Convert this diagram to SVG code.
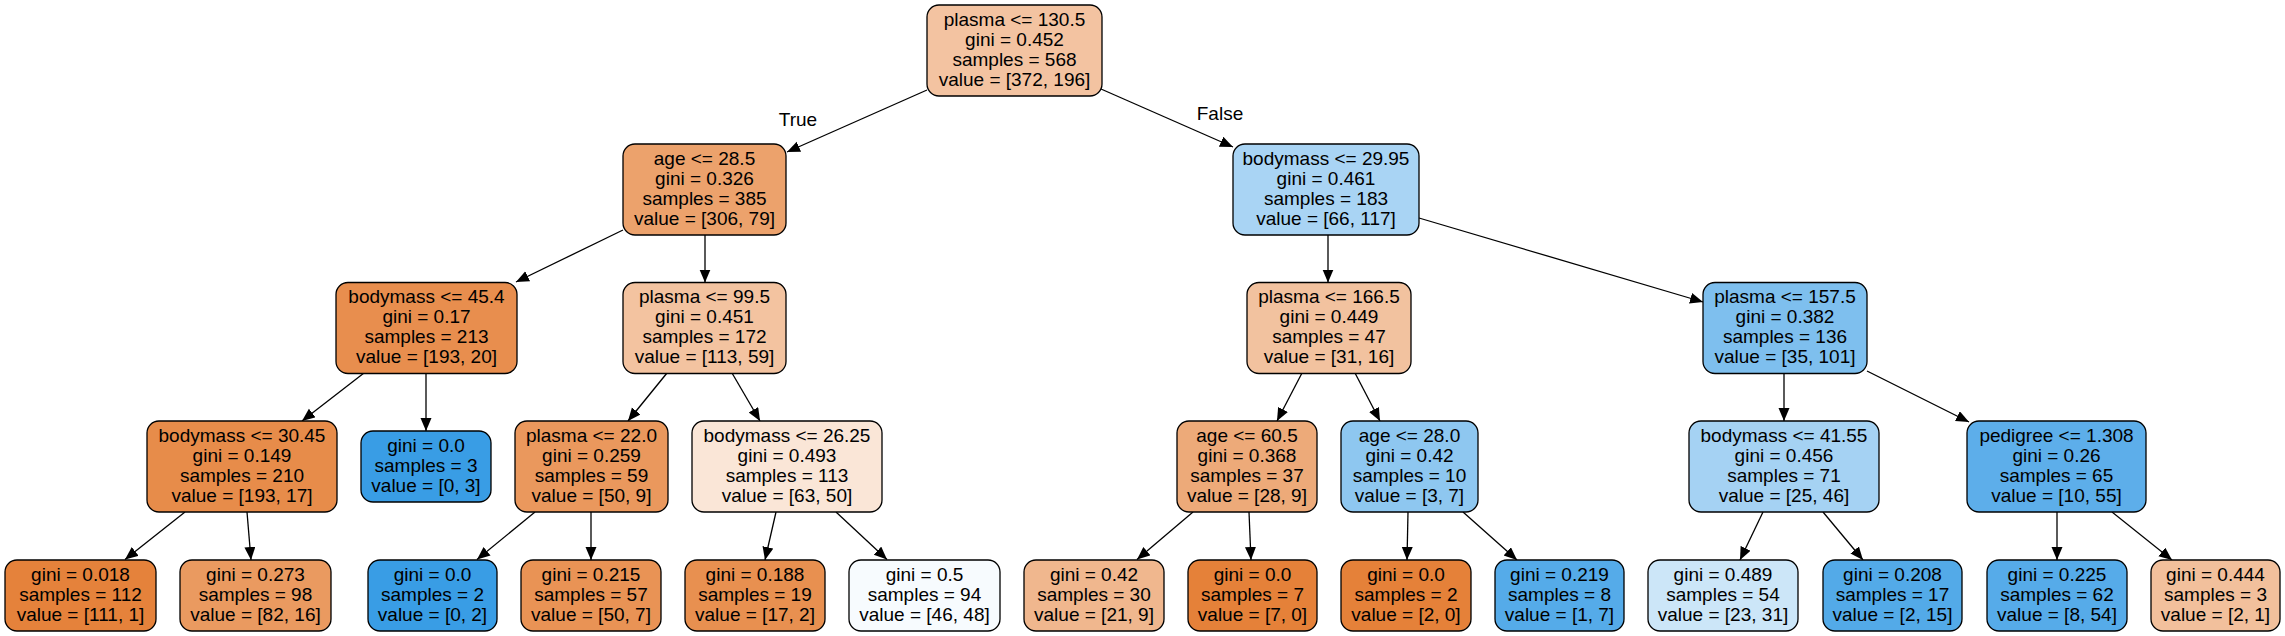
<svg xmlns="http://www.w3.org/2000/svg" width="2285" height="636" viewBox="0 0 2285 636">
<defs>
<marker id="ah" markerUnits="userSpaceOnUse" markerWidth="14" markerHeight="12" refX="13" refY="5.5" orient="auto">
<path d="M0,0 L13,5.5 L0,11 Z" fill="#000"/>
</marker>
</defs>
<style>
.n rect{stroke:#000;stroke-width:1.3;}
.n text{font-family:"Liberation Sans",Arial,Helvetica,sans-serif;font-size:19px;text-anchor:middle;fill:#000;}
.e line{stroke:#000;stroke-width:1.3;marker-end:url(#ah);}
.lbl{font-family:"Liberation Sans",Arial,Helvetica,sans-serif;font-size:19px;text-anchor:middle;fill:#000;}
</style>
<rect width="2285" height="636" fill="#fff"/>
<g id="edges" class="e">
<line x1="927" y1="90" x2="787" y2="152"/>
<line x1="1101" y1="89" x2="1233" y2="147"/>
<line x1="623" y1="230" x2="516" y2="282"/>
<line x1="705" y1="235" x2="705" y2="282.5"/>
<line x1="364" y1="373" x2="302" y2="421"/>
<line x1="426" y1="373" x2="426" y2="431"/>
<line x1="667" y1="373" x2="628" y2="421"/>
<line x1="732" y1="373" x2="760" y2="421"/>
<line x1="185" y1="512" x2="125" y2="559.5"/>
<line x1="247" y1="512" x2="251" y2="560"/>
<line x1="535" y1="512" x2="477" y2="559.5"/>
<line x1="591" y1="512" x2="591" y2="560"/>
<line x1="776" y1="512" x2="765" y2="560"/>
<line x1="836" y1="512" x2="887" y2="559.5"/>
<line x1="1328" y1="235" x2="1328" y2="282.5"/>
<line x1="1419" y1="218" x2="1703" y2="302"/>
<line x1="1302" y1="373" x2="1277" y2="421"/>
<line x1="1355" y1="373" x2="1380" y2="421"/>
<line x1="1193" y1="512" x2="1137" y2="559.5"/>
<line x1="1249" y1="512" x2="1251" y2="560"/>
<line x1="1408" y1="512" x2="1407" y2="560"/>
<line x1="1463" y1="512" x2="1517" y2="560"/>
<line x1="1784" y1="373.5" x2="1784" y2="421"/>
<line x1="1867" y1="371" x2="1969" y2="422"/>
<line x1="1763" y1="512" x2="1740" y2="560"/>
<line x1="1823" y1="512" x2="1863" y2="560"/>
<line x1="2057" y1="512" x2="2057" y2="560"/>
<line x1="2112" y1="512" x2="2172" y2="560"/>
<text class="lbl" x="798" y="126">True</text>
<text class="lbl" x="1220" y="120">False</text>
</g>
<g id="n0" class="n"><rect x="927" y="5" width="175" height="91" rx="12" fill="#f3c3a1"/><text x="1014.5" y="25.5">plasma &lt;= 130.5</text><text x="1014.5" y="45.5">gini = 0.452</text><text x="1014.5" y="65.5">samples = 568</text><text x="1014.5" y="85.5">value = [372, 196]</text></g>
<g id="n1" class="n"><rect x="623" y="144" width="163" height="91" rx="12" fill="#eca26c"/><text x="704.5" y="164.5">age &lt;= 28.5</text><text x="704.5" y="184.5">gini = 0.326</text><text x="704.5" y="204.5">samples = 385</text><text x="704.5" y="224.5">value = [306, 79]</text></g>
<g id="n2" class="n"><rect x="336" y="282.5" width="181" height="91" rx="12" fill="#e88e4e"/><text x="426.5" y="303">bodymass &lt;= 45.4</text><text x="426.5" y="323">gini = 0.17</text><text x="426.5" y="343">samples = 213</text><text x="426.5" y="363">value = [193, 20]</text></g>
<g id="n3" class="n"><rect x="147" y="421" width="190" height="91" rx="12" fill="#e78c4a"/><text x="242" y="441.5">bodymass &lt;= 30.45</text><text x="242" y="461.5">gini = 0.149</text><text x="242" y="481.5">samples = 210</text><text x="242" y="501.5">value = [193, 17]</text></g>
<g id="n4" class="n"><rect x="5" y="560" width="151" height="71" rx="12" fill="#e5823b"/><text x="80.5" y="580.5">gini = 0.018</text><text x="80.5" y="600.5">samples = 112</text><text x="80.5" y="620.5">value = [111, 1]</text></g>
<g id="n5" class="n"><rect x="180" y="560" width="151" height="71" rx="12" fill="#ea9a60"/><text x="255.5" y="580.5">gini = 0.273</text><text x="255.5" y="600.5">samples = 98</text><text x="255.5" y="620.5">value = [82, 16]</text></g>
<g id="n6" class="n"><rect x="361" y="431" width="130" height="71" rx="12" fill="#399de5"/><text x="426" y="451.5">gini = 0.0</text><text x="426" y="471.5">samples = 3</text><text x="426" y="491.5">value = [0, 3]</text></g>
<g id="n7" class="n"><rect x="623" y="282.5" width="163" height="91" rx="12" fill="#f3c3a0"/><text x="704.5" y="303">plasma &lt;= 99.5</text><text x="704.5" y="323">gini = 0.451</text><text x="704.5" y="343">samples = 172</text><text x="704.5" y="363">value = [113, 59]</text></g>
<g id="n8" class="n"><rect x="515" y="421" width="153" height="91" rx="12" fill="#ea985d"/><text x="591.5" y="441.5">plasma &lt;= 22.0</text><text x="591.5" y="461.5">gini = 0.259</text><text x="591.5" y="481.5">samples = 59</text><text x="591.5" y="501.5">value = [50, 9]</text></g>
<g id="n9" class="n"><rect x="368" y="560" width="129" height="71" rx="12" fill="#399de5"/><text x="432.5" y="580.5">gini = 0.0</text><text x="432.5" y="600.5">samples = 2</text><text x="432.5" y="620.5">value = [0, 2]</text></g>
<g id="n10" class="n"><rect x="521" y="560" width="140" height="71" rx="12" fill="#e99355"/><text x="591" y="580.5">gini = 0.215</text><text x="591" y="600.5">samples = 57</text><text x="591" y="620.5">value = [50, 7]</text></g>
<g id="n11" class="n"><rect x="692" y="421" width="190" height="91" rx="12" fill="#fae6d7"/><text x="787" y="441.5">bodymass &lt;= 26.25</text><text x="787" y="461.5">gini = 0.493</text><text x="787" y="481.5">samples = 113</text><text x="787" y="501.5">value = [63, 50]</text></g>
<g id="n12" class="n"><rect x="685" y="560" width="140" height="71" rx="12" fill="#e89050"/><text x="755" y="580.5">gini = 0.188</text><text x="755" y="600.5">samples = 19</text><text x="755" y="620.5">value = [17, 2]</text></g>
<g id="n13" class="n"><rect x="849" y="560" width="151" height="71" rx="12" fill="#f7fbfe"/><text x="924.5" y="580.5">gini = 0.5</text><text x="924.5" y="600.5">samples = 94</text><text x="924.5" y="620.5">value = [46, 48]</text></g>
<g id="n14" class="n"><rect x="1233" y="144" width="186" height="91" rx="12" fill="#a9d4f4"/><text x="1326" y="164.5">bodymass &lt;= 29.95</text><text x="1326" y="184.5">gini = 0.461</text><text x="1326" y="204.5">samples = 183</text><text x="1326" y="224.5">value = [66, 117]</text></g>
<g id="n15" class="n"><rect x="1247" y="282.5" width="164" height="91" rx="12" fill="#f2c29f"/><text x="1329" y="303">plasma &lt;= 166.5</text><text x="1329" y="323">gini = 0.449</text><text x="1329" y="343">samples = 47</text><text x="1329" y="363">value = [31, 16]</text></g>
<g id="n16" class="n"><rect x="1177" y="421" width="140" height="91" rx="12" fill="#edaa79"/><text x="1247" y="441.5">age &lt;= 60.5</text><text x="1247" y="461.5">gini = 0.368</text><text x="1247" y="481.5">samples = 37</text><text x="1247" y="501.5">value = [28, 9]</text></g>
<g id="n17" class="n"><rect x="1024" y="560" width="140" height="71" rx="12" fill="#f0b78e"/><text x="1094" y="580.5">gini = 0.42</text><text x="1094" y="600.5">samples = 30</text><text x="1094" y="620.5">value = [21, 9]</text></g>
<g id="n18" class="n"><rect x="1188" y="560" width="129" height="71" rx="12" fill="#e58139"/><text x="1252.5" y="580.5">gini = 0.0</text><text x="1252.5" y="600.5">samples = 7</text><text x="1252.5" y="620.5">value = [7, 0]</text></g>
<g id="n19" class="n"><rect x="1341" y="421" width="137" height="91" rx="12" fill="#8ec7f0"/><text x="1409.5" y="441.5">age &lt;= 28.0</text><text x="1409.5" y="461.5">gini = 0.42</text><text x="1409.5" y="481.5">samples = 10</text><text x="1409.5" y="501.5">value = [3, 7]</text></g>
<g id="n20" class="n"><rect x="1341" y="560" width="130" height="71" rx="12" fill="#e58139"/><text x="1406" y="580.5">gini = 0.0</text><text x="1406" y="600.5">samples = 2</text><text x="1406" y="620.5">value = [2, 0]</text></g>
<g id="n21" class="n"><rect x="1495" y="560" width="129" height="71" rx="12" fill="#55abe9"/><text x="1559.5" y="580.5">gini = 0.219</text><text x="1559.5" y="600.5">samples = 8</text><text x="1559.5" y="620.5">value = [1, 7]</text></g>
<g id="n22" class="n"><rect x="1703" y="282.5" width="164" height="91" rx="12" fill="#7ebfee"/><text x="1785" y="303">plasma &lt;= 157.5</text><text x="1785" y="323">gini = 0.382</text><text x="1785" y="343">samples = 136</text><text x="1785" y="363">value = [35, 101]</text></g>
<g id="n23" class="n"><rect x="1689" y="421" width="190" height="91" rx="12" fill="#a5d2f3"/><text x="1784" y="441.5">bodymass &lt;= 41.55</text><text x="1784" y="461.5">gini = 0.456</text><text x="1784" y="481.5">samples = 71</text><text x="1784" y="501.5">value = [25, 46]</text></g>
<g id="n24" class="n"><rect x="1648" y="560" width="150" height="71" rx="12" fill="#cce6f8"/><text x="1723" y="580.5">gini = 0.489</text><text x="1723" y="600.5">samples = 54</text><text x="1723" y="620.5">value = [23, 31]</text></g>
<g id="n25" class="n"><rect x="1823" y="560" width="139" height="71" rx="12" fill="#53aae8"/><text x="1892.5" y="580.5">gini = 0.208</text><text x="1892.5" y="600.5">samples = 17</text><text x="1892.5" y="620.5">value = [2, 15]</text></g>
<g id="n26" class="n"><rect x="1967" y="421" width="179" height="91" rx="12" fill="#5daeea"/><text x="2056.5" y="441.5">pedigree &lt;= 1.308</text><text x="2056.5" y="461.5">gini = 0.26</text><text x="2056.5" y="481.5">samples = 65</text><text x="2056.5" y="501.5">value = [10, 55]</text></g>
<g id="n27" class="n"><rect x="1987" y="560" width="140" height="71" rx="12" fill="#56abe9"/><text x="2057" y="580.5">gini = 0.225</text><text x="2057" y="600.5">samples = 62</text><text x="2057" y="620.5">value = [8, 54]</text></g>
<g id="n28" class="n"><rect x="2151" y="560" width="129" height="71" rx="12" fill="#f2c09c"/><text x="2215.5" y="580.5">gini = 0.444</text><text x="2215.5" y="600.5">samples = 3</text><text x="2215.5" y="620.5">value = [2, 1]</text></g>
</svg>
